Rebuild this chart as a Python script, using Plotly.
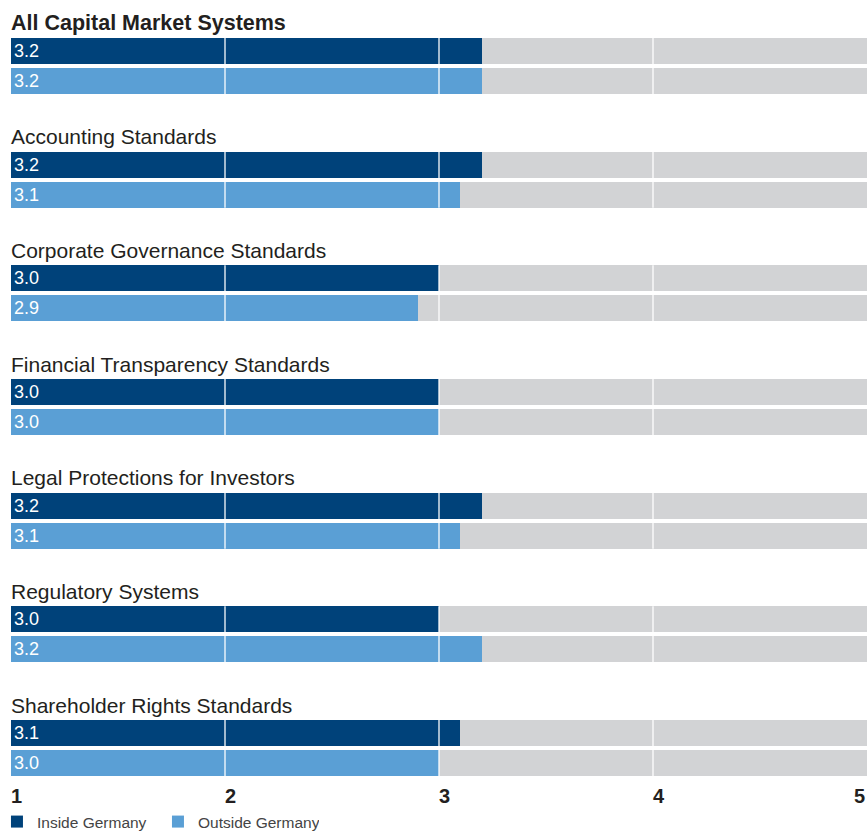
import plotly.graph_objects as go

categories = ["All Capital Market Systems", "Accounting Standards", "Corporate Governance Standards",
              "Financial Transparency Standards", "Legal Protections for Investors",
              "Regulatory Systems", "Shareholder Rights Standards"]
inside = [3.2, 3.2, 3.0, 3.0, 3.2, 3.0, 3.1]
outside = [3.2, 3.1, 2.9, 3.0, 3.1, 3.2, 3.0]
series_names = ["Inside Germany", "Outside Germany"]
tick_vals = [1, 2, 3, 4, 5]
tick_labels = ["1", "2", "3", "4", "5"]

DARK = "#00427A"
LIGHT = "#5A9FD5"
GRAY = "#D2D3D5"
TXT = "#231F20"
SCALE_MIN, SCALE_MAX = 1, 5

W, H = 867, 833
PERIOD = 113.67
FIRST = 51
GAP = 30
BW = 26

n = len(categories)
dark_y = [FIRST + PERIOD * i for i in range(n)]
light_y = [y + GAP for y in dark_y]

fig = go.Figure()
# gray background bars
fig.add_trace(go.Bar(y=dark_y + light_y, x=[SCALE_MAX - SCALE_MIN] * (2 * n), base=SCALE_MIN,
                     orientation="h", width=BW, marker=dict(color=GRAY, line=dict(width=0)),
                     showlegend=False, hoverinfo="skip"))
for name, vals, ys, col in [(series_names[0], inside, dark_y, DARK), (series_names[1], outside, light_y, LIGHT)]:
    fig.add_trace(go.Bar(y=ys, x=[v - SCALE_MIN for v in vals], base=SCALE_MIN, orientation="h",
                         width=BW, name=name, marker=dict(color=col, line=dict(width=0)),
                         text=[f"{v:.1f}" for v in vals], textposition="inside",
                         insidetextanchor="start",
                         textfont=dict(color="white", size=18, family="Liberation Sans"),
                         cliponaxis=False))

shapes = []
for i in range(n):
    for t in tick_vals[1:-1]:
        shapes.append(dict(type="line", xref="x", yref="y", x0=t, x1=t,
                           y0=dark_y[i] - BW / 2, y1=light_y[i] + BW / 2,
                           line=dict(color="rgba(255,255,255,0.85)", width=1.5), layer="above"))

annotations = []
for i, c in enumerate(categories):
    annotations.append(dict(x=SCALE_MIN, y=dark_y[i] - 28, xref="x", yref="y",
                            text=f"<b>{c}</b>" if i == 0 else c,
                            showarrow=False, xanchor="left", yanchor="middle", xshift=-2,
                            font=dict(size=21.5 if i == 0 else 21, color=TXT, family="Liberation Sans")))
for t, lab in zip(tick_vals, tick_labels):
    annotations.append(dict(x=t, y=796, xref="x", yref="y", text=f"<b>{lab}</b>", showarrow=False,
                            xanchor="right" if t == SCALE_MAX else "left", yanchor="middle",
                            xshift=-2 if t != SCALE_MAX else 0,
                            font=dict(size=20, color=TXT, family="Liberation Sans")))

fig.update_layout(
    width=W, height=H, margin=dict(l=11, r=0, t=0, b=0, pad=0, autoexpand=False),
    paper_bgcolor="white", plot_bgcolor="white", barmode="overlay", bargap=0,
    xaxis=dict(range=[SCALE_MIN, SCALE_MAX], showgrid=False, zeroline=False, showticklabels=False,
               fixedrange=True),
    yaxis=dict(range=[H, 0], showgrid=False, zeroline=False, showticklabels=False, fixedrange=True),
    shapes=shapes, annotations=annotations,
    legend=dict(orientation="h", xref="paper", yref="paper", x=-0.0164, y=-0.0072,
                xanchor="left", yanchor="bottom",
                font=dict(size=15.5, color="#444", family="Liberation Sans"),
                bgcolor="rgba(0,0,0,0)", entrywidth=116, entrywidthmode="pixels"),
    uniformtext=dict(minsize=18, mode="show"),
)
fig.write_html("out.html", config={"displayModeBar": False},
               post_script="document.body.style.margin='0';")
